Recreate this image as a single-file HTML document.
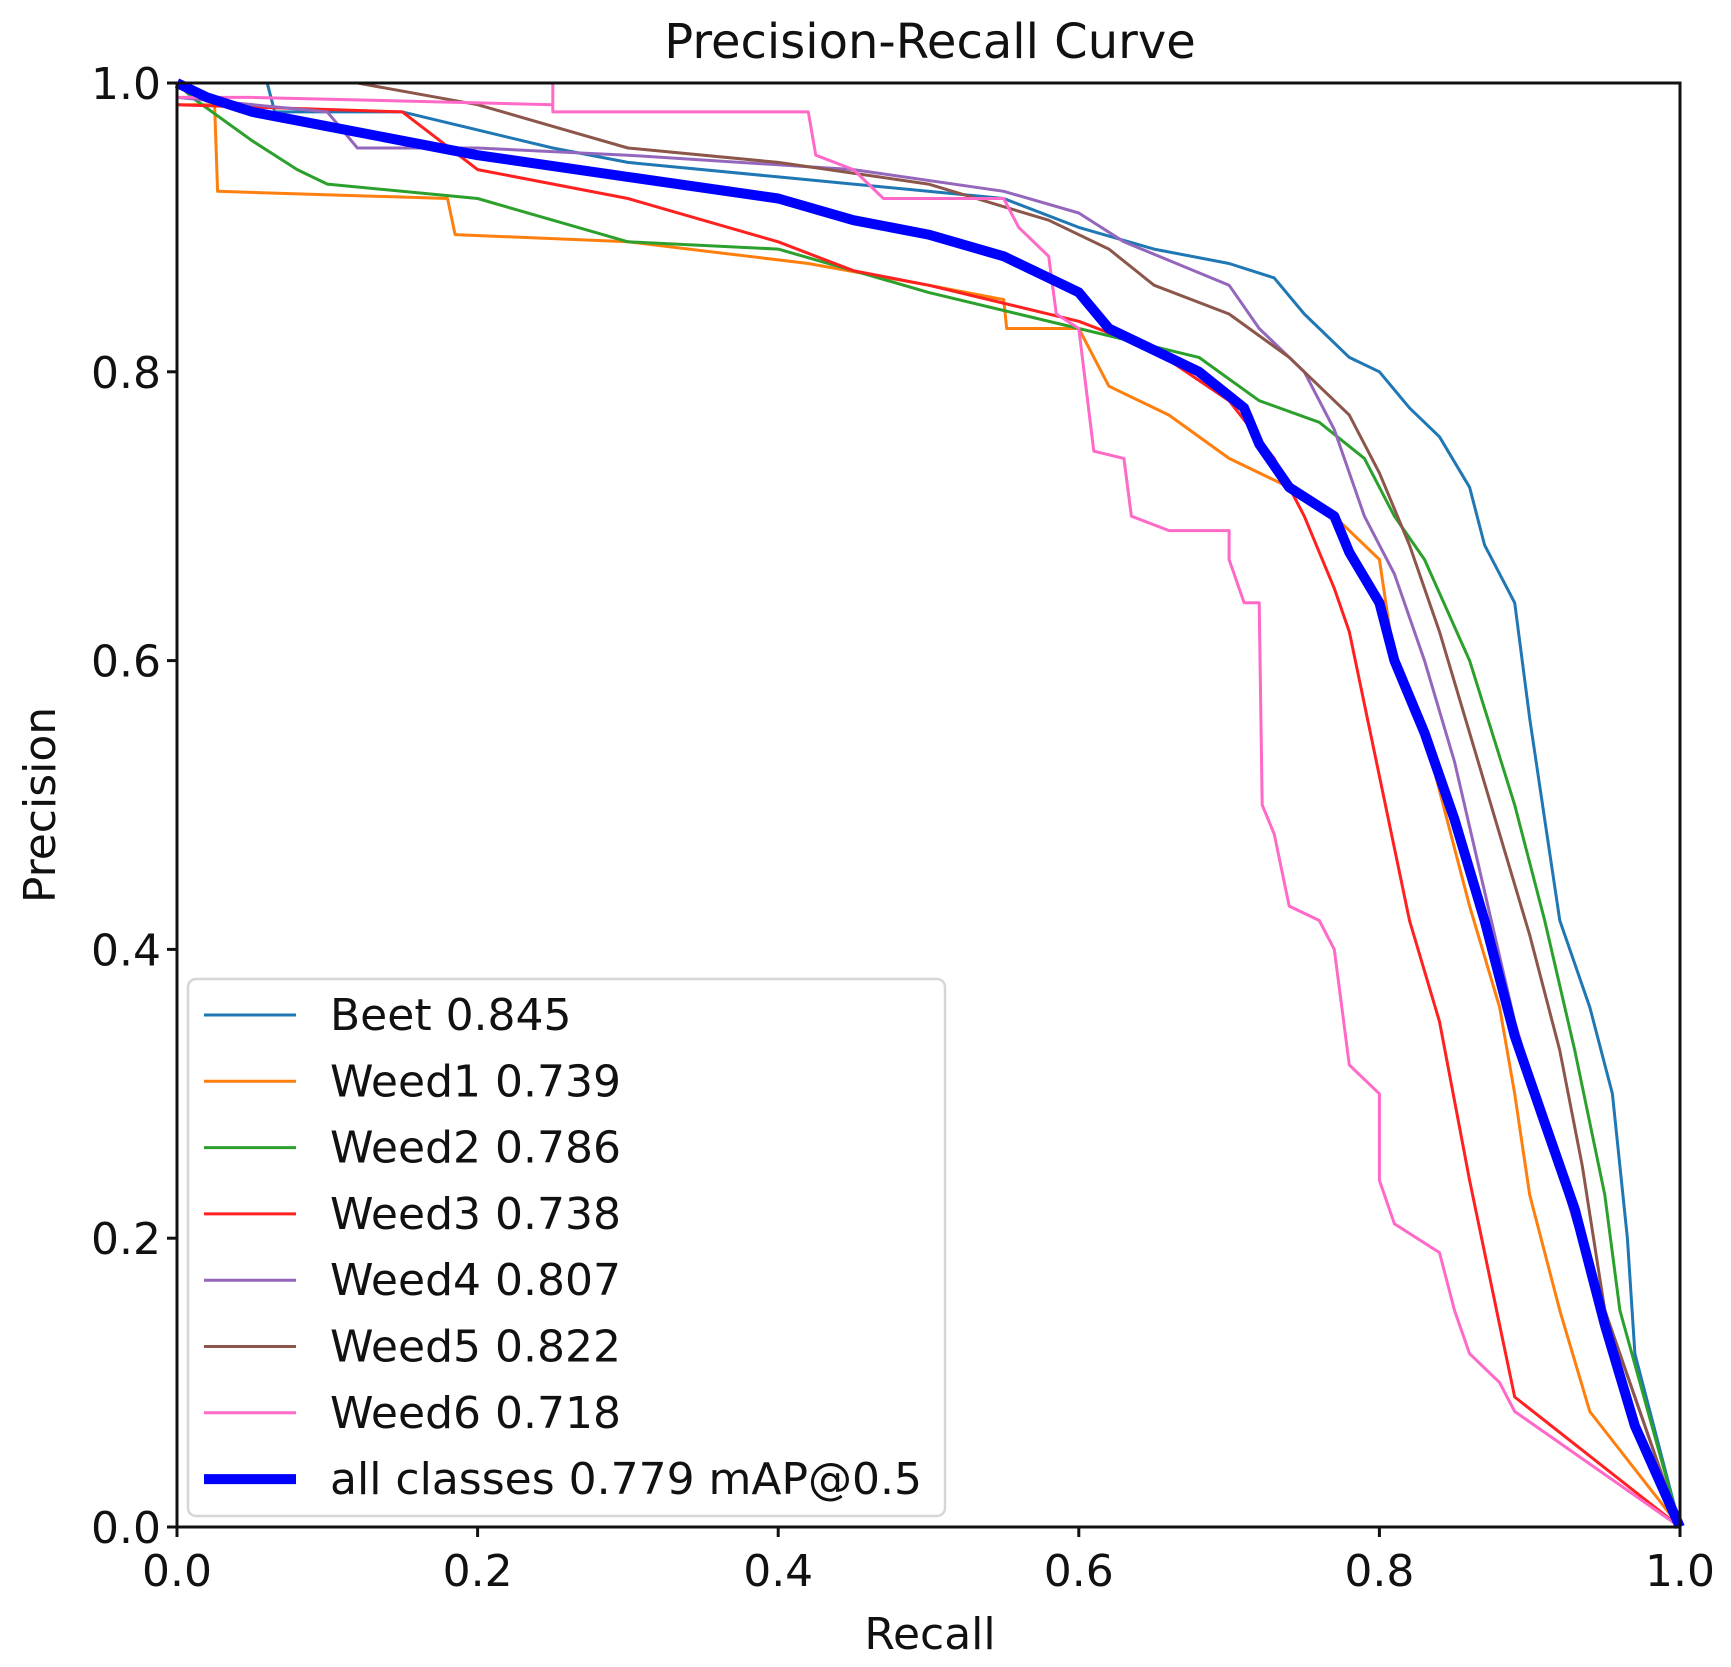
<!DOCTYPE html>
<html><head><meta charset="utf-8"><style>
html,body{margin:0;padding:0;background:#fff;width:1731px;height:1667px;overflow:hidden}
svg{display:block;font-family:"DejaVu Sans","Liberation Sans",sans-serif}
</style></head><body>
<svg id="chart" width="1731" height="1667" viewBox="0 0 1731 1667" xmlns="http://www.w3.org/2000/svg"></svg>
<script>
const xTicks=[0,0.2,0.4,0.6,0.8,1.0];
const yTicks=[0,0.2,0.4,0.6,0.8,1.0];
const tickLabels=["0.0","0.2","0.4","0.6","0.8","1.0"];
const seriesNames=["Beet 0.845","Weed1 0.739","Weed2 0.786","Weed3 0.738","Weed4 0.807","Weed5 0.822","Weed6 0.718","all classes 0.779 mAP@0.5"];
const seriesColors=["#1f77b4","#ff7f0e","#2ca02c","#ff2020","#9467bd","#8c564b","#ff69c8","#0000ff"];
const beet=[[0,1],[0.06,1],[0.065,0.98],[0.15,0.98],[0.25,0.955],[0.3,0.945],[0.4,0.935],[0.45,0.93],[0.55,0.92],[0.6,0.9],[0.65,0.885],[0.7,0.875],[0.73,0.865],[0.75,0.84],[0.78,0.81],[0.8,0.8],[0.82,0.775],[0.84,0.755],[0.86,0.72],[0.87,0.68],[0.89,0.64],[0.9,0.56],[0.91,0.49],[0.92,0.42],[0.94,0.36],[0.955,0.3],[0.965,0.2],[0.97,0.12],[1,0]];
const weed1=[[0,0.985],[0.025,0.985],[0.027,0.925],[0.18,0.92],[0.185,0.895],[0.3,0.89],[0.42,0.875],[0.5,0.86],[0.55,0.85],[0.552,0.83],[0.6,0.83],[0.62,0.79],[0.66,0.77],[0.7,0.74],[0.74,0.72],[0.77,0.7],[0.8,0.67],[0.81,0.6],[0.83,0.55],[0.85,0.47],[0.86,0.43],[0.88,0.36],[0.89,0.3],[0.9,0.23],[0.92,0.15],[0.94,0.08],[1,0]];
const weed2=[[0,1],[0.01,0.99],[0.05,0.96],[0.08,0.94],[0.1,0.93],[0.2,0.92],[0.25,0.905],[0.3,0.89],[0.4,0.885],[0.45,0.87],[0.5,0.855],[0.6,0.83],[0.68,0.81],[0.72,0.78],[0.76,0.765],[0.79,0.74],[0.81,0.7],[0.83,0.67],[0.86,0.6],[0.89,0.5],[0.91,0.42],[0.93,0.33],[0.95,0.23],[0.96,0.15],[1,0]];
const weed3=[[0,0.985],[0.15,0.98],[0.2,0.94],[0.3,0.92],[0.35,0.905],[0.4,0.89],[0.45,0.87],[0.5,0.86],[0.6,0.835],[0.65,0.815],[0.7,0.78],[0.73,0.74],[0.75,0.7],[0.77,0.65],[0.78,0.62],[0.8,0.52],[0.82,0.42],[0.84,0.35],[0.86,0.24],[0.88,0.14],[0.89,0.09],[1,0]];
const weed4=[[0,0.99],[0.1,0.98],[0.12,0.955],[0.2,0.955],[0.3,0.95],[0.45,0.94],[0.55,0.925],[0.6,0.91],[0.63,0.89],[0.7,0.86],[0.72,0.83],[0.75,0.8],[0.77,0.76],[0.79,0.7],[0.81,0.66],[0.83,0.6],[0.85,0.53],[0.87,0.44],[0.89,0.35],[0.91,0.28],[0.93,0.21],[0.95,0.15],[1,0]];
const weed5=[[0,1],[0.12,1],[0.2,0.985],[0.3,0.955],[0.4,0.945],[0.5,0.93],[0.58,0.905],[0.62,0.885],[0.65,0.86],[0.7,0.84],[0.74,0.81],[0.78,0.77],[0.8,0.73],[0.82,0.68],[0.84,0.62],[0.86,0.55],[0.88,0.48],[0.9,0.41],[0.92,0.33],[0.935,0.25],[0.95,0.15],[1,0]];
const weed6=[[0,0.99],[0.05,0.99],[0.25,0.985],[0.25,1],[0.25,0.98],[0.42,0.98],[0.425,0.95],[0.45,0.94],[0.47,0.92],[0.55,0.92],[0.56,0.9],[0.58,0.88],[0.585,0.84],[0.6,0.83],[0.61,0.745],[0.63,0.74],[0.635,0.7],[0.66,0.69],[0.7,0.69],[0.7,0.67],[0.71,0.64],[0.72,0.64],[0.722,0.5],[0.73,0.48],[0.74,0.43],[0.76,0.42],[0.77,0.4],[0.78,0.32],[0.8,0.3],[0.8,0.24],[0.81,0.21],[0.84,0.19],[0.85,0.15],[0.86,0.12],[0.88,0.1],[0.89,0.08],[1,0]];
const allClasses=[[0,1],[0.02,0.99],[0.05,0.98],[0.1,0.97],[0.2,0.95],[0.3,0.935],[0.4,0.92],[0.45,0.905],[0.5,0.895],[0.55,0.88],[0.58,0.865],[0.6,0.855],[0.62,0.83],[0.65,0.815],[0.68,0.8],[0.71,0.775],[0.72,0.75],[0.74,0.72],[0.77,0.7],[0.78,0.675],[0.8,0.64],[0.81,0.6],[0.83,0.55],[0.85,0.49],[0.87,0.42],[0.89,0.34],[0.91,0.28],[0.93,0.22],[0.95,0.14],[0.97,0.07],[1,0]];
const seriesData=[beet,weed1,weed2,weed3,weed4,weed5,weed6,allClasses];

const svg=document.getElementById('chart');
const NS="http://www.w3.org/2000/svg";
const X0=177,X1=1680,Y0=1527,Y1=83;
const sx=v=>X0+v*(X1-X0), sy=v=>Y0-v*(Y0-Y1);
function mk(tag,attrs,parent){const e=document.createElementNS(NS,tag);for(const k in attrs)e.setAttribute(k,attrs[k]);(parent||svg).appendChild(e);return e;}

let t=mk('text',{x:930,y:58,'text-anchor':'middle','font-size':48,fill:'#111'});t.textContent="Precision-Recall Curve";


t=mk('text',{x:930,y:1649,'text-anchor':'middle','font-size':44,fill:'#111'});t.textContent="Recall";


t=mk('text',{x:55,y:805,'text-anchor':'middle','font-size':44,fill:'#111',transform:'rotate(-90 55 805)'});t.textContent="Precision";



xTicks.forEach((v,i)=>{
  const l=mk('line',{x1:sx(v),x2:sx(v),y1:Y0,y2:Y0+10,stroke:'#111','stroke-width':3});
  
  
  const tx=mk('text',{x:sx(v),y:1586,'text-anchor':'middle','font-size':44,fill:'#111'});tx.textContent=tickLabels[i];
  
  
});
yTicks.forEach((v,i)=>{
  const l=mk('line',{x1:X0-10,x2:X0,y1:sy(v),y2:sy(v),stroke:'#111','stroke-width':3});
  
  
  const tx=mk('text',{x:X0-16,y:sy(v)+16,'text-anchor':'end','font-size':44,fill:'#111'});tx.textContent=tickLabels[i];
  
  
});

const g=mk('g',{});


seriesData.forEach((d,i)=>{
  const p=mk('polyline',{points:d.map(q=>sx(q[0]).toFixed(1)+','+sy(q[1]).toFixed(1)).join(' '),fill:'none',stroke:seriesColors[i],'stroke-width':i===7?10:3,'stroke-linejoin':'round'},g);
  
  
});
const fr=mk('rect',{x:X0,y:Y1,width:X1-X0,height:Y0-Y1,fill:'none',stroke:'#111','stroke-width':3});



const lg=mk('g',{});


const lb=mk('rect',{x:188,y:979,width:757,height:537,rx:8,fill:'#fff','fill-opacity':0.9,stroke:'#d6d6d6','stroke-width':2.5},lg);


seriesNames.forEach((n,i)=>{
  const y=1015+i*66.3;
  const l=mk('line',{x1:204,x2:296,y1:y,y2:y,stroke:seriesColors[i],'stroke-width':i===7?10:3},lg);
  
  
  const tx=mk('text',{x:330,y:y+15,'font-size':44,fill:'#111'},lg);tx.textContent=n;
  
  
});
</script>
</body></html>
